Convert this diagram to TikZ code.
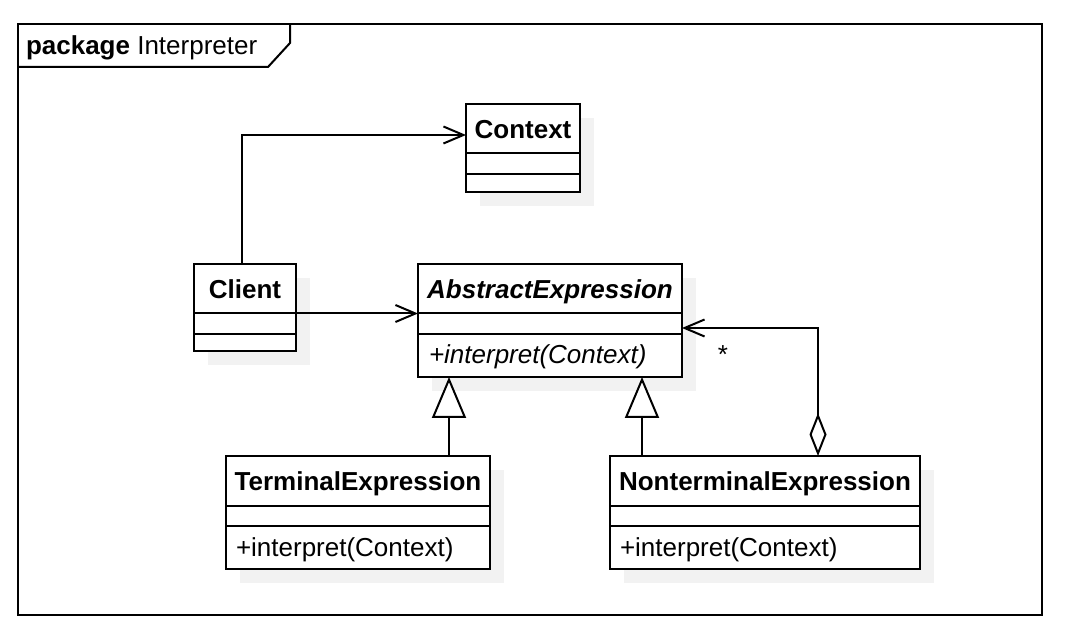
\documentclass[tikz,border=0pt]{standalone}
\usepackage{fontspec}
\setmainfont{Liberation Sans}
\usetikzlibrary{arrows.meta,shadows,calc}
\begin{document}
\begin{tikzpicture}[x=1pt,y=-1pt,
  line width=2pt,
  every node/.style={font=\fontsize{26}{30}\selectfont, inner sep=0pt, outer sep=0pt},
  classbox/.style={draw, fill=white, rectangle, anchor=north west,
    general shadow={fill=black!5, shadow xshift=14pt, shadow yshift=-14pt}},
  hdr/.style={anchor=base, font=\fontsize{26}{30}\selectfont\bfseries},
  op/.style={anchor=base west},
  assoc/.style={-{Straight Barb[length=20pt,width=17pt]}},
  gen/.style={-{Triangle[open,length=41pt,width=34pt,fill=white]}},
  aggr/.style={{Diamond[open,length=43pt,width=17pt,fill=white]}-{Straight Barb[length=20pt,width=17pt]}}
]
\useasboundingbox (0,0) rectangle (1072,644);

% package frame
\draw (18,24) rectangle (1042,615);
\draw (18,67) -- (268,67) -- (290,43) -- (290,24);
\node[anchor=base west] (pkg) at (26,55) {\textbf{package} Interpreter};

% Context
\node[classbox, minimum width=114pt, minimum height=88pt] (ctx) at (466,104) {};
\draw ($(ctx.north west)+(0,49.5)$) -- ($(ctx.north east)+(0,49.5)$);
\draw ($(ctx.north west)+(0,70)$) -- ($(ctx.north east)+(0,70)$);
\node[hdr] (ctxname) at ($(ctx.north)+(0,35)$) {Context};

% Client
\node[classbox, minimum width=102pt, minimum height=87pt] (client) at (194,264) {};
\draw ($(client.north west)+(0,49.5)$) -- ($(client.north east)+(0,49.5)$);
\draw ($(client.north west)+(0,70)$) -- ($(client.north east)+(0,70)$);
\node[hdr] (clientname) at ($(client.north)+(0,34.5)$) {Client};

% AbstractExpression
\node[classbox, minimum width=264pt, minimum height=113pt] (ae) at (418,264) {};
\draw ($(ae.north west)+(0,49.5)$) -- ($(ae.north east)+(0,49.5)$);
\draw ($(ae.north west)+(0,70)$) -- ($(ae.north east)+(0,70)$);
\node[hdr] (aename) at ($(ae.north)+(0,34.5)$) {\itshape AbstractExpression};
\node[op] (aeop) at ($(ae.north west)+(11,100)$) {\itshape +interpret(Context)};

% TerminalExpression
\node[classbox, minimum width=264pt, minimum height=113pt] (te) at (226,456) {};
\draw ($(te.north west)+(0,49.5)$) -- ($(te.north east)+(0,49.5)$);
\draw ($(te.north west)+(0,69.5)$) -- ($(te.north east)+(0,69.5)$);
\node[hdr] (tename) at ($(te.north)+(0,34.5)$) {TerminalExpression};
\node[op] (teop) at ($(te.north west)+(10,100)$) {+interpret(Context)};

% NonterminalExpression
\node[classbox, minimum width=310pt, minimum height=113pt] (ne) at (610,456) {};
\draw ($(ne.north west)+(0,49.5)$) -- ($(ne.north east)+(0,49.5)$);
\draw ($(ne.north west)+(0,69.5)$) -- ($(ne.north east)+(0,69.5)$);
\node[hdr] (nename) at ($(ne.north)+(0,34.5)$) {NonterminalExpression};
\node[op] (neop) at ($(ne.north west)+(10,100)$) {+interpret(Context)};

% connectors
\draw[assoc] ($(client.north)+(-3,0)$) |- ($(ctx.west)+(0,-13)$);
\draw[assoc] ($(client.north east)+(0,49.5)$) -- ($(ae.north west)+(0,49.5)$);
\draw[gen] ($(te.north west)+(223,0)$) -- ($(ae.south west)+(31,0)$);
\draw[gen] ($(ne.north west)+(32,0)$) -- ($(ae.south west)+(224,0)$);
\draw[aggr] ($(ne.north west)+(208,0)$) |- ($(ae.north east)+(0,64)$);
\node[anchor=base] (mult) at (723,364) {*};
\end{tikzpicture}
\end{document}
